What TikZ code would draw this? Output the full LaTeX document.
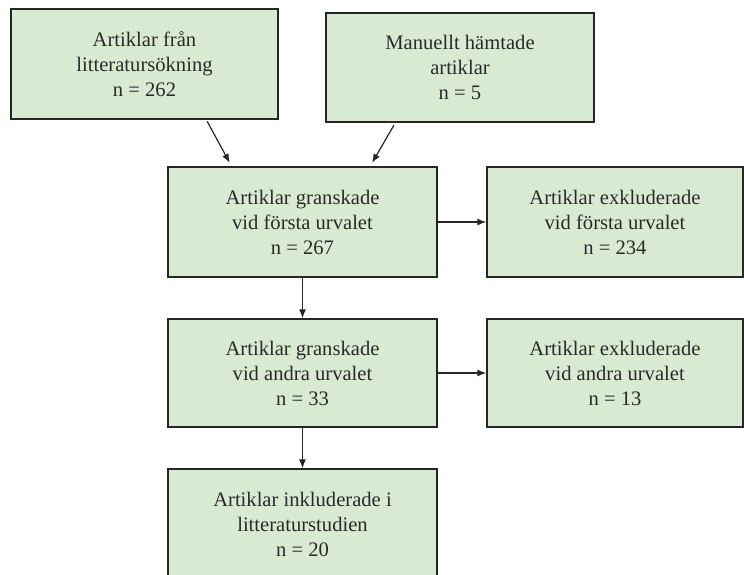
\documentclass[tikz,border=0pt]{standalone}
\usepackage{fontspec}
\setmainfont{Liberation Serif}
\usepackage{tikz}
\usetikzlibrary{calc, arrows.meta}
\definecolor{boxgreen}{HTML}{D9EAD3}
\definecolor{boxtext}{HTML}{2A2A2A}
\tikzset{box/.style={draw=black!85, line width=1.3pt, fill=boxgreen, text=boxtext, align=center, inner sep=0pt, font=\fontsize{20.6}{25}\selectfont, execute at begin node=\rule{0pt}{24pt}}}
\tikzset{arr/.style={line width=1.2pt, black!85, -{Latex[length=9pt,width=7pt]}}}

\begin{document}
\begin{tikzpicture}[x=1pt,y=-1pt]
        \useasboundingbox (0,0) rectangle (744,574);
        \clip (0,0) rectangle (744,574);
        % Boxes
        \node[box, minimum width=267pt, minimum height=110pt] (fran) at (144.5,64) {Artiklar från\\litteratursökning\\n = 262};
        \node[box, minimum width=268pt, minimum height=109pt] (manuellt) at (460,67.5) {Manuellt hämtade\\artiklar\\n = 5};
        \node[box, minimum width=269pt, minimum height=110pt] (granskF) at (302.5,222) {Artiklar granskade\\vid första urvalet\\n = 267};
        \node[box, minimum width=256pt, minimum height=110pt] (exklF) at (615,222) {Artiklar exkluderade\\vid första urvalet\\n = 234};
        \node[box, minimum width=269pt, minimum height=108pt] (granskA) at (302.5,373) {Artiklar granskade\\vid andra urvalet\\n = 33};
        \node[box, minimum width=256pt, minimum height=108pt] (exklA) at (615,373) {Artiklar exkluderade\\vid andra urvalet\\n = 13};
        \node[box, minimum width=269pt, minimum height=110pt] (inkl) at (302.5,524) {Artiklar inkluderade i\\litteraturstudien\\n = 20};
        % Arrows into the first screening
        \draw[arr, shorten <=2pt, shorten >=4pt] ($(fran.south west)!0.73!(fran.south east)$) -- ($(granskF.north west)!0.238!(granskF.north east)$);
        \draw[arr, shorten <=3pt, shorten >=4pt] ($(manuellt.south west)!0.26!(manuellt.south east)$) -- ($(granskF.north west)!0.75!(granskF.north east)$);
        \foreach \from/\to in {granskF/exklF, granskA/exklA} {
          \draw[arr] (\from.east) -- (\to.west);
        }
        \foreach \from/\to in {granskF/granskA, granskA/inkl} {
          \draw[arr] (\from.south) -- (\to.north);
        }
        \end{tikzpicture}
\end{document}
